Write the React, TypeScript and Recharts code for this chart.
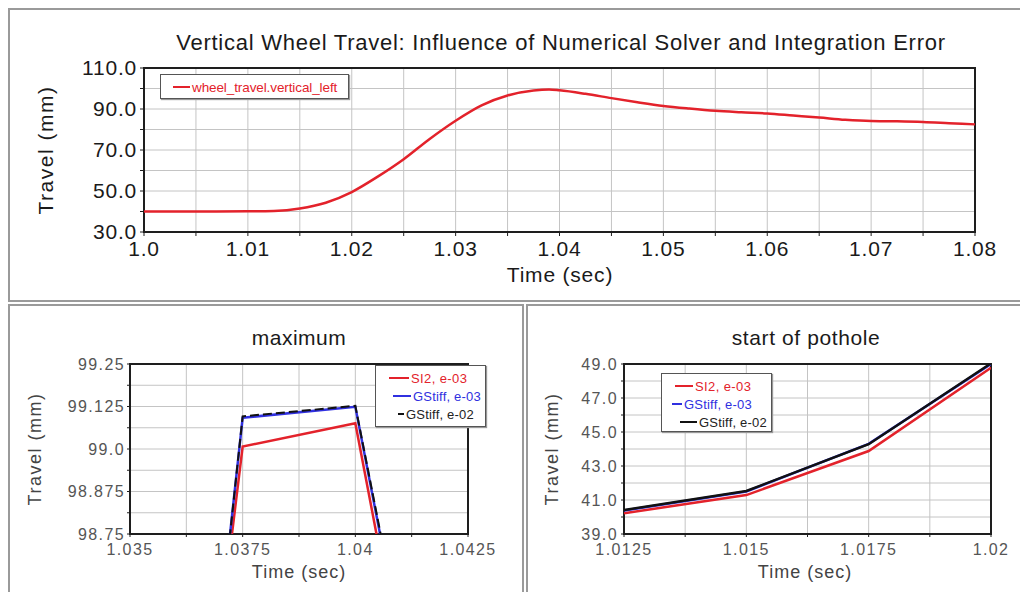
import React from 'react';
import { LineChart, Line, XAxis, YAxis, CartesianGrid, ReferenceArea } from 'recharts';

// full run, vertical wheel travel (mm) vs time (sec)
const runTime = [
  1.0, 1.005, 1.01, 1.0125, 1.015, 1.0175, 1.02, 1.0225, 1.025, 1.0275, 1.03,
  1.0325, 1.035, 1.0375, 1.039, 1.04, 1.0425, 1.045, 1.0475, 1.05, 1.0525, 1.055,
  1.0575, 1.06, 1.0625, 1.065, 1.0675, 1.07, 1.0725, 1.075, 1.0775, 1.08,
];
const runTravel = [
  40.0, 40.0, 40.1, 40.3, 41.5, 44.3, 49.5, 57.0, 65.5, 75.4, 84.3,
  91.8, 96.6, 99.0, 99.5, 99.1, 97.4, 95.3, 93.3, 91.5, 90.2, 89.1,
  88.4, 87.8, 86.8, 85.8, 84.7, 84.1, 84.0, 83.7, 83.1, 82.5,
];
const runXTicks = [
  1.0, 1.005, 1.01, 1.015, 1.02, 1.025, 1.03, 1.035, 1.04, 1.045, 1.05, 1.055,
  1.06, 1.065, 1.07, 1.075, 1.08,
];
const runXLabels = [
  '1.0', '', '1.01', '', '1.02', '', '1.03', '', '1.04', '', '1.05', '',
  '1.06', '', '1.07', '', '1.08',
];
const runYTicks = [30, 40, 50, 60, 70, 80, 90, 100, 110];
const runYLabels = ['30.0', '', '50.0', '', '70.0', '', '90.0', '', '110.0'];

// zoom on the maximum
const maxTime = [1.035, 1.0375, 1.04, 1.0425];
const maxSI2 = [96.3, 99.007, 99.076, 97.34];
const maxGStiff3 = [96.04, 99.092, 99.124, 97.42];
const maxGStiff2 = [96.0, 99.096, 99.127, 97.45];
const maxXTicks = [1.035, 1.03625, 1.0375, 1.03875, 1.04, 1.04125, 1.0425];
const maxXLabels = ['1.035', '', '1.0375', '', '1.04', '', '1.0425'];
const maxYTicks = [98.75, 98.8125, 98.875, 98.9375, 99.0, 99.0625, 99.125, 99.1875, 99.25];
const maxYLabels = ['98.75', '', '98.875', '', '99.0', '', '99.125', '', '99.25'];

// zoom on the start of the pothole
const potTime = [1.0125, 1.015, 1.0175, 1.02];
const potSI2 = [40.22, 41.29, 43.88, 48.78];
const potGStiff3 = [40.38, 41.5, 44.3, 49.0];
const potGStiff2 = [40.41, 41.53, 44.28, 49.04];
const potXTicks = [1.0125, 1.01375, 1.015, 1.01625, 1.0175, 1.01875, 1.02];
const potXLabels = ['1.0125', '', '1.015', '', '1.0175', '', '1.02'];
const potYTicks = [39, 40, 41, 42, 43, 44, 45, 46, 47, 48, 49];
const potYLabels = ['39.0', '', '41.0', '', '43.0', '', '45.0', '', '47.0', '', '49.0'];

const runData = runTime.map((t, i) => ({ t, travel: runTravel[i] }));
const maxData = maxTime.map((t, i) => ({ t, si2: maxSI2[i], gs3: maxGStiff3[i], gs2: maxGStiff2[i] }));
const potData = potTime.map((t, i) => ({ t, si2: potSI2[i], gs3: potGStiff3[i], gs2: potGStiff2[i] }));

const RED = '#e3222b';
const BLUE = '#3030e0';
const BLACK = '#111111';
const FONT = '"Liberation Sans", Arial, sans-serif';

const labelFor = (ticks: number[], labels: string[]) => (v: number) => {
  const i = ticks.findIndex((t) => Math.abs(t - v) < 1e-7);
  return i >= 0 ? labels[i] : '';
};

// text placed by its centre, page coords minus body margin
function Caption({ x, y, text, size, color = '#1a1a1a', rotate = 0, spacing = 0 }: any) {
  return (
    <div
      style={{
        position: 'absolute',
        left: x - 8,
        top: y - 8,
        transform: `translate(-50%, -50%) rotate(${rotate}deg)`,
        fontSize: size,
        color,
        letterSpacing: spacing,
        whiteSpace: 'nowrap',
        lineHeight: 1,
      }}
    >
      {text}
    </div>
  );
}

function LegendBox({ x, y, w, h, items, size }: any) {
  return (
    <div
      style={{
        position: 'absolute',
        left: x - 8,
        top: y - 8,
        width: w,
        height: h,
        boxSizing: 'border-box',
        border: '1px solid #555',
        boxShadow: '1px 1px 1px #999',
        background: '#fff',
        padding: '3px 0 0 8px',
      }}
    >
      {items.map((it: any) => (
        <div key={it.name} style={{ display: 'flex', alignItems: 'center', height: it.row || 18 }}>
          <div style={{ width: it.len, marginLeft: it.pad || 0, height: 2, background: it.color, marginRight: 2 }} />
          <span style={{ fontSize: size, color: it.text, letterSpacing: it.ls ?? 0 }}>{it.name}</span>
        </div>
      ))}
    </div>
  );
}

function Frame({ x1, x2, y1, y2 }: any) {
  return (
    <ReferenceArea
      x1={x1}
      x2={x2}
      y1={y1}
      y2={y2}
      fill="none"
      stroke="#1e1e1e"
      strokeWidth={2}
      ifOverflow="visible"
    />
  );
}

export default function App() {
  const bigTick = { fill: '#1a1a1a', fontSize: 21, letterSpacing: 0.8 };
  const smallTick = { fill: '#555', fontSize: 16, letterSpacing: 1.4 };
  return (
    <div style={{ position: 'relative', width: 1020, height: 584, fontFamily: FONT, background: '#fff', overflow: 'hidden' }}>
      {/* panel frames */}
      <div style={{ position: 'absolute', left: 0, top: 0, width: 1024, height: 294, boxSizing: 'border-box', borderLeft: '2px solid #9a9a9a', borderTop: '2px solid #9a9a9a', borderBottom: '2px solid #9a9a9a' }} />
      <div style={{ position: 'absolute', left: 0, top: 296, width: 516, height: 300, boxSizing: 'border-box', borderLeft: '2px solid #9a9a9a', borderTop: '2px solid #9a9a9a', borderRight: '2px solid #9a9a9a' }} />
      <div style={{ position: 'absolute', left: 518, top: 296, width: 510, height: 300, boxSizing: 'border-box', borderLeft: '2px solid #9a9a9a', borderTop: '2px solid #9a9a9a' }} />

      {/* top: whole run */}
      <div style={{ position: 'absolute', left: 0, top: 0 }}>
        <LineChart width={1020} height={292} data={runData} margin={{ top: 60, right: 53, bottom: 38, left: 76 }}>
          <CartesianGrid stroke="#c4c4c4" strokeWidth={1} horizontalValues={runYTicks} verticalValues={runXTicks} />
          <XAxis
            dataKey="t"
            type="number"
            domain={[1.0, 1.08]}
            ticks={runXTicks}
            interval={0}
            height={30}
            tickFormatter={labelFor(runXTicks, runXLabels)}
            tick={bigTick}
            tickSize={4}
            tickMargin={5}
            tickLine={{ stroke: '#1e1e1e' }}
            axisLine={false}
          />
          <YAxis
            type="number"
            domain={[30, 110]}
            ticks={runYTicks}
            interval={0}
            width={60}
            tickFormatter={labelFor(runYTicks, runYLabels)}
            tick={bigTick}
            tickSize={4}
            tickMargin={3}
            tickLine={{ stroke: '#1e1e1e' }}
            axisLine={false}
          />
          <Frame x1={1.0} x2={1.08} y1={30} y2={110} />
          <Line type="monotone" dataKey="travel" stroke={RED} strokeWidth={2.5} dot={false} isAnimationActive={false} />
        </LineChart>
      </div>
      <Caption x={561} y={43} text="Vertical Wheel Travel: Influence of Numerical Solver and Integration Error" size={22} spacing={0.75} />
      <Caption x={560} y={274} text="Time (sec)" size={21} spacing={0.8} />
      <Caption x={45} y={150} text="Travel (mm)" size={21} spacing={1.5} rotate={-90} />
      <LegendBox
        x={160}
        y={74}
        w={189}
        h={25}
        size={13.5}
        items={[{ name: 'wheel_travel.vertical_left', color: RED, text: RED, len: 17, pad: 4, ls: -0.1 }]}
      />

      {/* bottom left: maximum */}
      <div style={{ position: 'absolute', left: 0, top: 295 }}>
        <LineChart width={515} height={289} data={maxData} margin={{ top: 61, right: 55, bottom: 28, left: 62 }}>
          <CartesianGrid stroke="#c4c4c4" strokeWidth={1} horizontalValues={maxYTicks} verticalValues={maxXTicks} />
          <XAxis
            dataKey="t"
            type="number"
            domain={[1.035, 1.0425]}
            allowDataOverflow
            ticks={maxXTicks}
            interval={0}
            height={30}
            tickFormatter={labelFor(maxXTicks, maxXLabels)}
            tick={smallTick}
            tickSize={3}
            tickMargin={7}
            tickLine={{ stroke: '#1e1e1e' }}
            axisLine={false}
          />
          <YAxis
            type="number"
            domain={[98.75, 99.25]}
            allowDataOverflow
            ticks={maxYTicks}
            interval={0}
            width={60}
            tickFormatter={labelFor(maxYTicks, maxYLabels)}
            tick={smallTick}
            tickSize={3}
            tickMargin={2}
            tickLine={{ stroke: '#1e1e1e' }}
            axisLine={false}
          />
          <Frame x1={1.035} x2={1.0425} y1={98.75} y2={99.25} />
          <Line type="linear" dataKey="si2" stroke={RED} strokeWidth={2.5} dot={false} isAnimationActive={false} />
          <Line type="linear" dataKey="gs3" stroke={BLUE} strokeWidth={2.5} dot={false} isAnimationActive={false} />
          <Line type="linear" dataKey="gs2" stroke={BLACK} strokeWidth={2} strokeDasharray="9 4" dot={false} isAnimationActive={false} />
        </LineChart>
      </div>
      <Caption x={299} y={337} text="maximum" size={21} spacing={0.5} />
      <Caption x={299} y={572} text="Time (sec)" size={18} spacing={1} color="#444" />
      <Caption x={35} y={449} text="Travel (mm)" size={18} spacing={1.5} rotate={-90} color="#444" />
      <LegendBox
        x={375}
        y={365}
        w={111}
        h={62}
        size={13}
        items={[
          { name: 'SI2, e-03', color: RED, text: RED, len: 20, pad: 5, ls: 0.4 },
          { name: 'GStiff, e-03', color: BLUE, text: BLUE, len: 18, pad: 9, ls: 0.2 },
          { name: 'GStiff, e-02', color: BLACK, text: '#222', len: 6, pad: 14, ls: 0.2 },
        ]}
      />

      {/* bottom right: start of pothole */}
      <div style={{ position: 'absolute', left: 519, top: 295 }}>
        <LineChart width={501} height={289} data={potData} margin={{ top: 61, right: 37, bottom: 28, left: 37 }}>
          <CartesianGrid stroke="#c4c4c4" strokeWidth={1} horizontalValues={potYTicks} verticalValues={potXTicks} />
          <XAxis
            dataKey="t"
            type="number"
            domain={[1.0125, 1.02]}
            allowDataOverflow
            ticks={potXTicks}
            interval={0}
            height={30}
            tickFormatter={labelFor(potXTicks, potXLabels)}
            tick={smallTick}
            tickSize={3}
            tickMargin={7}
            tickLine={{ stroke: '#1e1e1e' }}
            axisLine={false}
          />
          <YAxis
            type="number"
            domain={[39, 49]}
            allowDataOverflow
            ticks={potYTicks}
            interval={0}
            width={60}
            tickFormatter={labelFor(potYTicks, potYLabels)}
            tick={smallTick}
            tickSize={3}
            tickMargin={3}
            tickLine={{ stroke: '#1e1e1e' }}
            axisLine={false}
          />
          <Frame x1={1.0125} x2={1.02} y1={39} y2={49} />
          <Line type="linear" dataKey="si2" stroke={RED} strokeWidth={2.5} dot={false} isAnimationActive={false} />
          <Line type="linear" dataKey="gs3" stroke={BLUE} strokeWidth={2.5} dot={false} isAnimationActive={false} />
          <Line type="linear" dataKey="gs2" stroke={BLACK} strokeWidth={2.5} dot={false} isAnimationActive={false} />
        </LineChart>
      </div>
      <Caption x={806} y={337} text="start of pothole" size={21} spacing={0.6} />
      <Caption x={805} y={572} text="Time (sec)" size={18} spacing={1} color="#444" />
      <Caption x={552} y={449} text="Travel (mm)" size={18} spacing={1.5} rotate={-90} color="#444" />
      <LegendBox
        x={661}
        y={373}
        w={111}
        h={59}
        size={13}
        items={[
          { name: 'SI2, e-03', color: RED, text: RED, len: 18, pad: 5, ls: 0.4 },
          { name: 'GStiff, e-03', color: BLUE, text: BLUE, len: 10, pad: 2, ls: 0.2 },
          { name: 'GStiff, e-02', color: BLACK, text: '#222', len: 17, pad: 10, ls: 0.2 },
        ]}
      />
    </div>
  );
}
